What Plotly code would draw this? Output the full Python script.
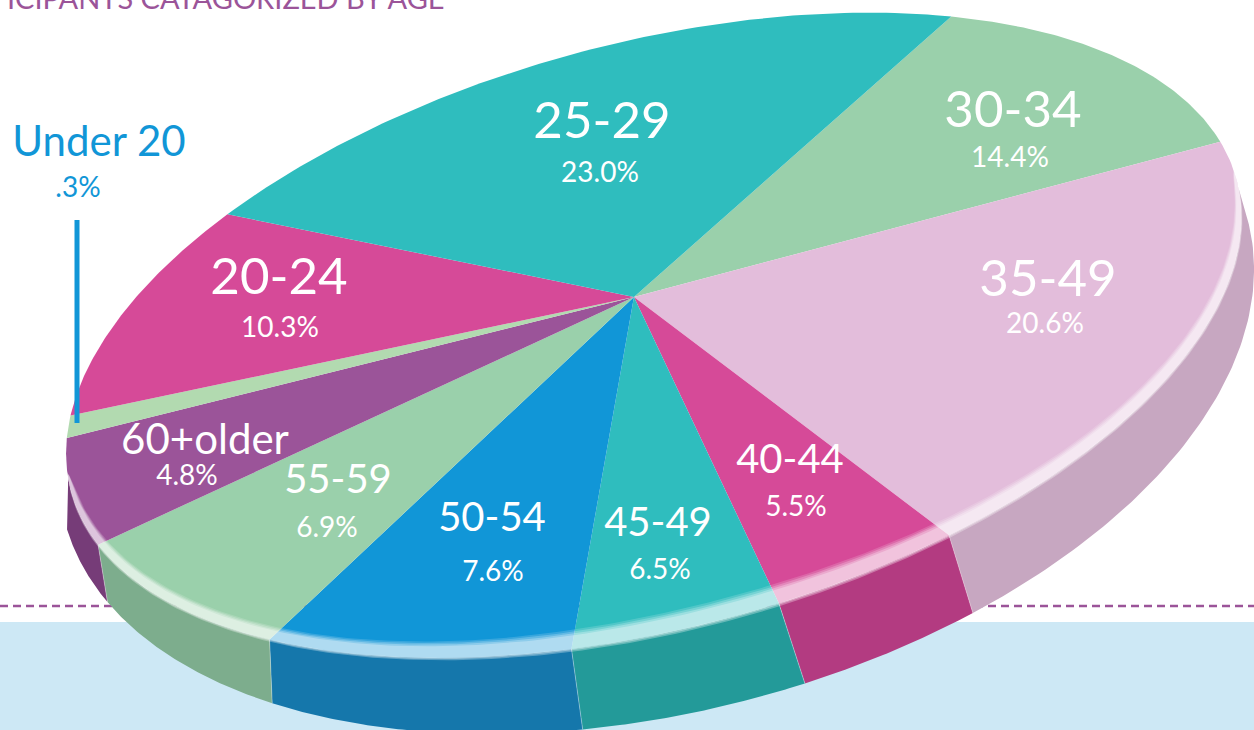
import numpy as np
import plotly.graph_objects as go

# ---- data ----
categories = ["30-34", "35-49", "40-44", "45-49", "50-54", "55-59", "60+older", "Under 20", "20-24", "25-29"]
pct_labels = ["14.4%", "20.6%", "5.5%", "6.5%", "7.6%", "6.9%", "4.8%", ".3%", "10.3%", "23.0%"]
# size of each wedge as it is actually drawn in the picture (percent of the disc)
drawn_share = [12.9, 19.2, 4.3, 4.9, 8.1, 7.9, 6.1, 1.2, 11.0, 24.4]
top_colors = ["#9AD0AB", "#E3BDDB", "#D64A98", "#2FBDBE", "#1196D7", "#9AD0AB", "#9B5499", "#B2DAB0", "#D64A98", "#2FBDBE"]
wall_colors = ["#7DAD8D", "#C7A7C1", "#B33B81", "#239A99", "#1577AB", "#7DAD8D", "#763C78", "#763C78", "#B33B81", "#239A99"]

# ---- projection of the tilted disc ----
C1, AX1, V1 = np.array([653.7, 335.2]), np.array([292.4, 603.2]), np.array([[0.2582, -0.9661], [0.9661, 0.2582]])
C2, AX2, V2 = np.array([656.3, 370.8]), np.array([341.6, 610.4]), np.array([[0.2442, -0.9697], [0.9697, 0.2442]])
A, PHI, TH0 = 0.1445, 3.0357, 0.8719


def disc(share, radius=1.0):
    th = TH0 + 2 * np.pi * np.asarray(share, float) / 100
    x, y = radius * np.cos(th), radius * np.sin(th)
    s = np.sqrt(1 - A * A)
    d = 1 + A * x
    qx, qy = (x + A) / d, y * s / d
    c, n = np.cos(PHI), np.sin(PHI)
    return np.c_[qx * c - qy * n, qx * n + qy * c]


def rim(share):
    return C1 + (disc(share) * AX1) @ V1.T


def base(share):
    share = np.asarray(share, float)
    lean = np.interp(share, [15, 32, 36.4, 41.3, 49.4, 57.3, 62], [0.28, 0.28, 0.35, 0.08, 0.05, 1.0, 1.2])
    return C2 + (disc(share - lean) * AX2) @ V2.T


apex = (C1 + (disc([0.0], 0.0) * AX1) @ V1.T)[0]
cum = np.r_[0, np.cumsum(drawn_share)]

fig = go.Figure()
fig.update_layout(
    width=1254, height=730, margin=dict(l=0, r=0, t=0, b=0),
    paper_bgcolor="white", plot_bgcolor="white", showlegend=False,
    xaxis=dict(range=[0, 1254], visible=False, fixedrange=True),
    yaxis=dict(range=[730, 0], visible=False, fixedrange=True),
    shapes=[
        dict(type="rect", x0=0, x1=1254, y0=622, y1=730, fillcolor="#CDE8F5", line=dict(width=0), layer="below"),
        dict(type="line", x0=0, x1=1254, y0=606, y1=606, line=dict(color="#9B5499", width=2.5, dash="8px,5px"), layer="below"),
    ],
)


def poly(pts, color):
    fig.add_trace(go.Scatter(x=pts[:, 0], y=pts[:, 1], mode="lines", fill="toself", fillcolor=color,
                             line=dict(width=0), hoverinfo="skip", showlegend=False))


def line(pts, color, width):
    fig.add_trace(go.Scatter(x=pts[:, 0], y=pts[:, 1], mode="lines", line=dict(color=color, width=width),
                             hoverinfo="skip", showlegend=False))


# ---- side wall ----
WALL_FROM, WALL_TO = 15.5, 61.2
for i in range(len(drawn_share)):
    lo, hi = max(cum[i], WALL_FROM), min(cum[i + 1], WALL_TO)
    if hi <= lo:
        continue
    s = np.linspace(lo, hi, 80)
    poly(np.r_[rim(s), base(s[::-1])], wall_colors[i])
for v in cum[2:7]:
    line(np.r_[rim([v]), base([v])], "rgba(255,255,255,0.35)", 1)

# ---- top face ----
for i in range(len(drawn_share)):
    s = np.linspace(cum[i], cum[i + 1], 90)
    poly(np.r_[[apex], rim(s)], top_colors[i])

# ---- rim highlight ----
HL_FROM, HL_TO = 14.6, 61.5
s = np.linspace(HL_FROM, HL_TO, 260)
edge = rim(s)
toward = (apex - edge) / np.linalg.norm(apex - edge, axis=1, keepdims=True)
taper = np.sin(np.pi * (s - HL_FROM) / (HL_TO - HL_FROM)) ** 0.55
for w, alpha in [(20, 0.16), (18, 0.22), (16, 0.28), (14, 0.30)]:
    poly(np.r_[edge, (edge + toward * (w * taper)[:, None])[::-1]], f"rgba(255,255,255,{alpha})")
poly(np.r_[edge, (edge - toward * (3 * taper)[:, None])[::-1]], "rgba(255,255,255,0.30)")
poly(np.r_[edge, (edge - toward * (1.5 * taper)[:, None])[::-1]], "rgba(255,255,255,0.35)")

# ---- labels ----
LABEL_XY = [(1013, 114), (1048, 283), (790, 463), (658, 526), (492, 521), (338, 483), (205, 443), (99, 145), (279, 281), (602, 125)]
PCT_XY = [(1010, 160), (1045, 326), (796, 509), (660, 572), (493, 574), (327, 530), (187, 478), (78, 190), (280, 330), (600, 175)]
LABEL_SIZE = [51, 51, 40, 40, 40, 40, 42, 42, 51, 51]
PCT_SIZE = [28, 28, 28, 28, 28, 28, 28, 28, 28, 28]
FONT = "Lato"
for i, cat in enumerate(categories):
    col = "#1196D7" if cat == "Under 20" else "#FFFFFF"
    fig.add_trace(go.Scatter(x=[LABEL_XY[i][0]], y=[LABEL_XY[i][1]], mode="text", text=[cat], textposition="middle center",
                             textfont=dict(family=FONT, size=LABEL_SIZE[i], color=col), hoverinfo="skip", showlegend=False))
    fig.add_trace(go.Scatter(x=[PCT_XY[i][0]], y=[PCT_XY[i][1]], mode="text", text=[pct_labels[i]], textposition="middle center",
                             textfont=dict(family=FONT, size=PCT_SIZE[i], color=col), hoverinfo="skip", showlegend=False))

# leader line of "Under 20"
fig.add_shape(type="line", x0=77, x1=77, y0=220, y1=423, line=dict(color="#1196D7", width=5), layer="above")

fig.add_annotation(x=447, y=0, yshift=3, text="ICIPANTS CATAGORIZED BY AGE", showarrow=False, xanchor="right", yanchor="middle",
                   font=dict(family=FONT, size=29, color="#9B5499"))

fig.write_html("out.html", config={"displayModeBar": False}, post_script="document.body.style.margin=0")
